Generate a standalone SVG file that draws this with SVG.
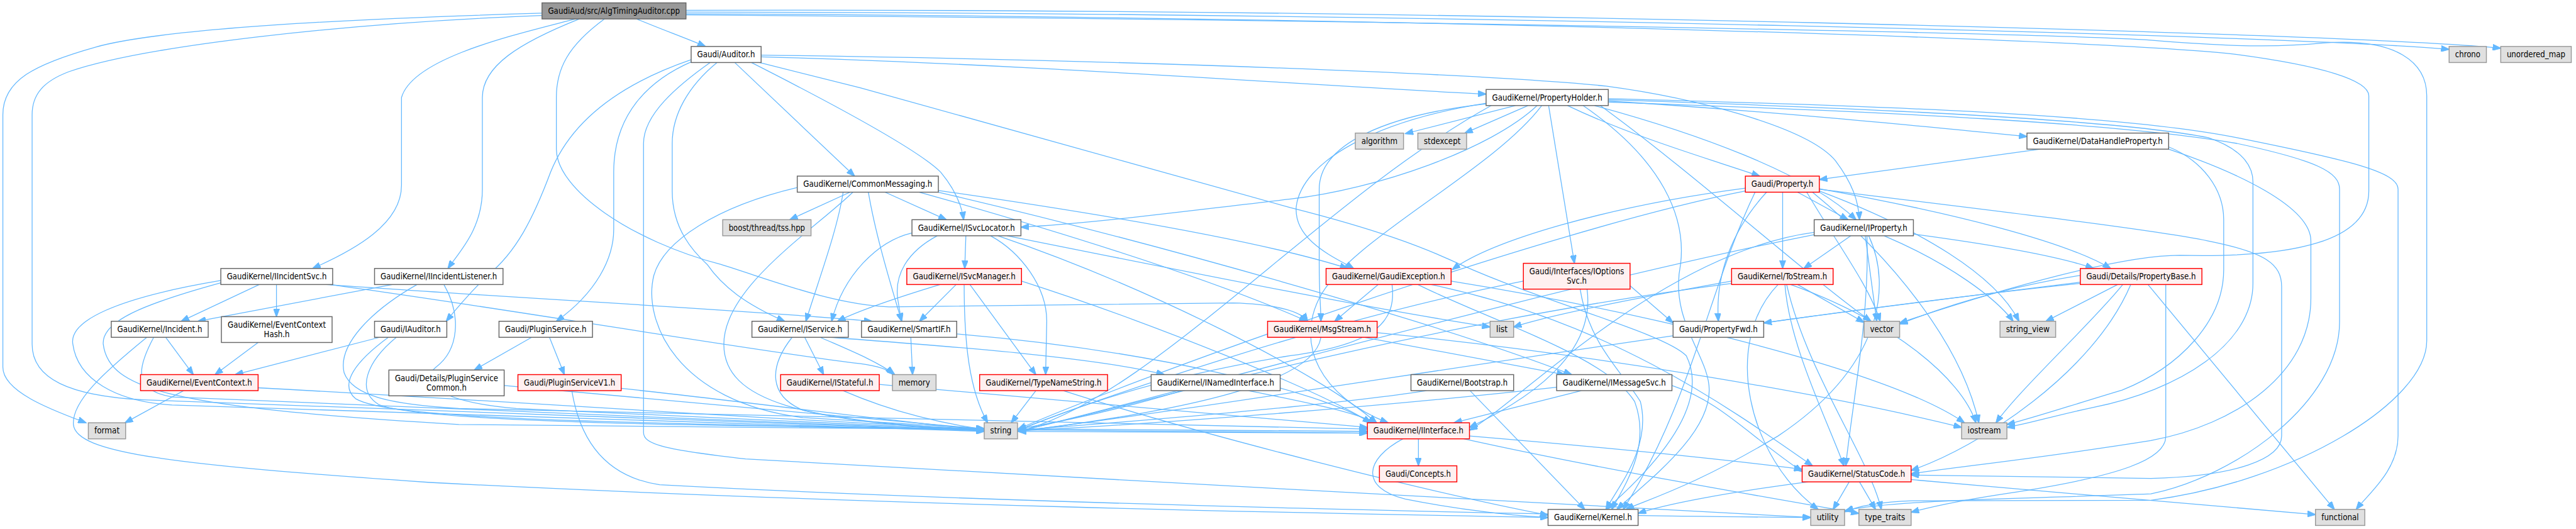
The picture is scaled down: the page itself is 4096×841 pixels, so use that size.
<svg xmlns="http://www.w3.org/2000/svg" width="4096" height="841" viewBox="0 0 4096 841">
<style>
.e path{fill:none;stroke:#63b8ff;stroke-width:1.4;marker-end:url(#a)}
rect{stroke-width:1.6}
.n rect{fill:#ffffff;stroke:#666666}
.r rect{fill:#fff0f0;stroke:#ff0000}
.s rect{fill:#e0e0e0;stroke:#999999}
.root rect{fill:#999999;stroke:#666666}
text{font-family:"DejaVu Sans Condensed","DejaVu Sans",sans-serif;font-size:15px;fill:#000000;text-anchor:middle}
</style>
<defs>
<marker id="a" markerWidth="15" markerHeight="11" refX="14" refY="5.5" orient="auto" markerUnits="userSpaceOnUse"><path d="M0,0 L15,5.5 L0,11 z" fill="#63b8ff" stroke="#63b8ff" stroke-width="1"/></marker>
</defs>
<rect x="0" y="0" width="4096" height="841" fill="#ffffff"/>
<g transform="scale(0.912)">
<g id="edges" class="e">
<path d="M1110,33 C1150,50 1195,66 1230,81"/>
<path d="M1003,33 C900,60 720,100 700,170 L700,323 C700,390 620,435 545,468"/>
<path d="M1010,33 C905,75 841,115 841,170 L841,330 C841,400 800,440 781,468"/>
<path d="M945,23 C700,30 300,45 167,82 C60,112 5,140 5,200 L5,640 C5,685 100,718 150,737"/>
<path d="M945,27 C600,40 250,80 120,125 C75,142 56,165 56,200 L56,600 C56,660 120,690 250,697 L1716,751"/>
<path d="M1196,21 C2500,22 4000,62 4270,86"/>
<path d="M1196,18 C2500,14 4100,58 4360,84"/>
<path d="M1196,24 C2500,30 3700,70 3900,95 C4050,115 4130,140 4130,167 L4130,333 C4130,420 4000,450 3800,445 C3700,445 3500,500 3312,563"/>
<path d="M1196,26 C2500,35 3600,60 3750,70 C3850,78 3950,85 4050,75 C4180,65 4231,110 4231,167 L4231,594 C4231,700 4000,840 3750,872 L3335,873 C3280,875 3240,882 3217,892"/>
<path d="M1054,33 C990,80 970,120 970,170 L970,260 C970,330 1100,420 1257,461 C1350,490 1450,530 1550,535 L2150,528 C2230,530 2270,545 2280,560"/>
<path d="M1205,104 C1100,140 1000,200 960,300 C930,380 900,440 850,480 C810,520 790,545 778,560"/>
<path d="M1207,107 C1130,140 1070,200 1070,300 L1070,400 C1070,450 1040,510 970,560"/>
<path d="M1238,109 C1180,150 1122,200 1122,250 L1122,754 C1122,775 1160,784 1300,800 L2250,853 C2700,880 3000,895 3157,902"/>
<path d="M1250,109 C1200,150 1172,200 1172,250 L1172,333 C1172,400 1210,440 1233,461 C1260,500 1300,530 1368,560"/>
<path d="M1281,109 L1490,307"/>
<path d="M1310,109 C1450,180 1600,260 1640,300 C1665,330 1677,360 1680,383"/>
<path d="M1324,109 L1500,153 L2250,362 C2400,400 2480,430 2546,461 C2700,530 2900,580 2940,620 C2980,700 2900,800 2800,888"/>
<path d="M1327,99 C1800,112 2300,150 2591,164"/>
<path d="M1327,96 C2000,105 2600,130 2800,150 C2950,170 3150,220 3200,280 C3230,320 3240,350 3242,383"/>
<path d="M2642,184 L2450,233"/>
<path d="M2664,184 L2554,232"/>
<path d="M2700,184 L2745,459"/>
<path d="M2804,176 C3100,195 3350,220 3534,238"/>
<path d="M2733,184 C2850,240 2990,280 3068,307"/>
<path d="M2680,184 C2600,260 2400,330 2250,347 C2050,370 1900,390 1780,396"/>
<path d="M2591,180 C2400,210 2270,280 2260,360 C2255,420 2330,450 2360,468"/>
<path d="M2591,181 C2420,200 2300,250 2300,330 L2300,460 C2300,510 2303,540 2303,560"/>
<path d="M2760,184 C2900,280 2940,380 2930,461 C2910,560 2980,620 2980,680 C2980,760 2870,840 2819,888"/>
<path d="M2804,172 C3300,185 3700,200 3900,240 C4100,280 4181,300 4181,330 L4181,760 C4181,820 4130,860 4108,888"/>
<path d="M2804,178 C3300,195 3700,215 3900,250 C4040,280 4079,300 4079,330 L4079,561 C4079,700 3900,830 3750,861 C3500,870 3300,872 3217,890"/>
<path d="M2790,184 C2950,300 3150,480 3262,560"/>
<path d="M2600,184 C2300,350 2000,700 1775,752"/>
<path d="M2804,174 C3300,190 3700,210 3850,240 C3910,260 3928,290 3928,317 L3928,494 C3928,600 3800,680 3650,710 C3580,725 3530,740 3499,745"/>
<path d="M2780,184 C2950,230 3150,300 3236,383"/>
<path d="M2688,184 C2600,300 2350,420 2300,520 C2260,600 2300,690 2420,737"/>
<path d="M3557,260 L3172,313"/>
<path d="M3781,256 C3840,280 3877,330 3877,383 L3877,470 C3877,560 3800,640 3700,680 C3600,710 3540,730 3499,740"/>
<path d="M3781,260 C3900,300 4029,360 4029,420 L4029,520 C4029,650 3900,740 3750,768 C3550,800 3400,815 3332,826"/>
<path d="M1482,335 L1377,383"/>
<path d="M1543,335 L1650,383"/>
<path d="M1514,335 C1525,400 1545,470 1572,560"/>
<path d="M1603,335 C1800,390 2100,480 2279,560"/>
<path d="M1636,332 C1900,370 2200,420 2350,468"/>
<path d="M1636,335 C2000,420 2500,560 2740,653"/>
<path d="M1470,335 C1460,400 1430,480 1405,560"/>
<path d="M1487,335 C1420,400 1262,500 1262,600 C1262,700 1400,735 1716,749"/>
<path d="M1390,327 C1250,360 1157,420 1140,480 C1120,560 1180,700 1400,728 L1716,747"/>
<path d="M3108,335 L3108,468"/>
<path d="M3134,335 L3222,383"/>
<path d="M3172,329 C3400,370 3600,420 3680,468"/>
<path d="M3080,335 C3020,400 2990,480 2996,560"/>
<path d="M3172,333 C3350,400 3480,480 3520,560"/>
<path d="M3150,335 C3200,420 3260,500 3278,560"/>
<path d="M3160,335 C3300,450 3420,600 3450,737"/>
<path d="M3172,330 C3500,370 3750,400 3850,420 C3950,440 3978,460 3978,500 L3978,760 C3978,800 3900,830 3750,834 L3332,828"/>
<path d="M3060,335 C2980,500 2950,700 2830,888"/>
<path d="M3043,328 C2800,360 2600,420 2532,470"/>
<path d="M3043,333 C2700,400 2000,650 1775,748"/>
<path d="M1684,411 L1682,468"/>
<path d="M1634,411 C1580,440 1560,480 1565,520 C1568,540 1570,550 1572,560"/>
<path d="M1727,411 C1780,440 1825,500 1825,560 L1823,653"/>
<path d="M1756,411 C2100,480 2400,540 2598,570"/>
<path d="M1590,406 C1530,420 1470,480 1450,560"/>
<path d="M1740,411 C2000,500 2300,650 2400,737"/>
<path d="M3163,405 C2900,440 2650,700 2562,750"/>
<path d="M3255,411 C3260,550 3230,700 3218,812"/>
<path d="M3163,409 C2700,500 2000,700 1775,752"/>
<path d="M3285,411 C3400,460 3480,520 3510,560"/>
<path d="M3252,411 L3272,560"/>
<path d="M3336,408 C3500,430 3600,450 3650,468"/>
<path d="M3258,411 C3300,500 3280,640 3100,760 C2950,850 2860,875 2835,888"/>
<path d="M3227,411 L3145,468"/>
<path d="M452,496 L316,560"/>
<path d="M482,496 L482,552"/>
<path d="M385,489 C200,520 120,560 127,600 C135,660 200,700 300,706 L1716,752"/>
<path d="M385,493 C250,530 177,560 180,600 C190,680 300,710 800,740 L2384,755"/>
<path d="M569,496 C900,520 1300,540 1520,560"/>
<path d="M575,496 C900,540 1300,610 1500,634 C1530,638 1550,645 1557,653"/>
<path d="M684,496 L345,560"/>
<path d="M727,496 C650,540 588,600 600,650 C615,690 680,705 800,712 L2384,748"/>
<path d="M774,496 C805,550 800,610 760,640 C730,665 760,700 900,712 L1716,750"/>
<path d="M1639,496 C1560,520 1500,540 1460,560"/>
<path d="M1667,496 L1603,560"/>
<path d="M1681,496 C1681,600 1690,680 1722,737"/>
<path d="M1691,496 L1806,653"/>
<path d="M1781,490 C2000,560 2300,680 2390,737"/>
<path d="M2403,496 L2327,560"/>
<path d="M2427,496 C2435,560 2400,600 2250,620 C2000,660 1850,720 1775,750"/>
<path d="M2472,496 C2600,560 2800,620 2850,700 C2880,780 2830,850 2810,888"/>
<path d="M2495,496 C2800,560 3000,700 3160,812"/>
<path d="M2530,490 C2900,550 3300,650 3425,737"/>
<path d="M2842,498 L2917,563"/>
<path d="M2755,504 C2770,600 2830,650 2860,700 C2880,780 2820,850 2800,888"/>
<path d="M2767,504 C2780,600 2700,680 2562,745"/>
<path d="M2656,490 C2300,560 1900,700 1775,750"/>
<path d="M3134,496 L3250,562"/>
<path d="M3122,496 C3300,560 3420,660 3445,737"/>
<path d="M3112,496 C3120,600 3180,720 3215,812"/>
<path d="M3019,490 C2850,520 2700,550 2639,570"/>
<path d="M3019,494 C2500,560 2000,700 1775,752"/>
<path d="M3100,496 C3000,600 3050,800 3170,888"/>
<path d="M3115,496 C3150,650 3260,800 3280,888"/>
<path d="M3692,496 L3567,560"/>
<path d="M3701,496 C3650,560 3520,680 3480,737"/>
<path d="M3715,496 C3650,650 3450,780 3332,820"/>
<path d="M3745,496 L4070,888"/>
<path d="M3627,492 C3400,520 3200,545 3075,563"/>
<path d="M3776,496 L3776,761 C3776,800 3700,830 3500,860 C3400,875 3350,888 3332,893"/>
<path d="M3627,494 C3000,560 2200,700 1775,752"/>
<path d="M3627,480 C3500,500 3400,530 3312,565"/>
<path d="M289,588 L337,653"/>
<path d="M256,588 C180,650 125,700 128,740 C132,790 300,810 750,841 C1500,880 2300,895 2699,902"/>
<path d="M268,588 C240,640 230,680 300,692 L1716,751"/>
<path d="M450,597 L375,653"/>
<path d="M662,588 L410,653"/>
<path d="M677,588 C620,630 590,670 620,695 C680,730 1000,735 1716,750"/>
<path d="M691,588 C640,630 620,680 660,705 C750,745 1500,745 2384,752"/>
<path d="M927,588 L827,645"/>
<path d="M958,588 L984,653"/>
<path d="M879,672 C1200,700 1500,730 1716,748"/>
<path d="M1083,677 C1300,700 1600,740 1716,749"/>
<path d="M997,681 C1010,760 1050,830 1150,845 C1800,880 2800,900 3157,902"/>
<path d="M1403,588 L1436,653"/>
<path d="M1381,588 C1340,640 1340,690 1400,715 C1500,740 1650,748 1716,750"/>
<path d="M1448,588 C1600,600 1900,620 2030,653"/>
<path d="M1430,588 C1480,610 1530,630 1560,653"/>
<path d="M1588,588 L1591,653"/>
<path d="M1668,582 C2000,610 2300,680 2390,737"/>
<path d="M2379,588 L2728,653"/>
<path d="M2303,588 C2295,640 2200,700 1775,752"/>
<path d="M2401,580 C2800,620 3200,690 3420,745"/>
<path d="M1533,670 C1900,700 2200,730 2384,745"/>
<path d="M1470,681 C1560,720 1650,740 1716,748"/>
<path d="M1806,681 L1763,737"/>
<path d="M1854,681 C2100,760 2500,860 2699,898"/>
<path d="M2177,681 C2270,700 2350,715 2400,737"/>
<path d="M2060,681 C1950,715 1850,735 1775,748"/>
<path d="M2563,681 L2763,888"/>
<path d="M2487,681 C2300,710 1900,740 1775,750"/>
<path d="M2757,681 L2535,737"/>
<path d="M2714,675 C2400,710 2000,740 1775,751"/>
<path d="M2915,672 C3000,700 3050,760 3142,822"/>
<path d="M2473,765 L2473,812"/>
<path d="M2446,765 C2380,800 2370,850 2450,870 C2550,890 2650,900 2699,902"/>
<path d="M2562,760 C2800,780 3000,800 3142,818"/>
<path d="M2552,765 C2800,820 3100,870 3241,895"/>
<path d="M2384,755 C2100,755 1900,752 1775,752"/>
<path d="M3224,840 L3196,888"/>
<path d="M3242,840 L3270,888"/>
<path d="M3152,840 C3000,860 2900,880 2856,895"/>
<path d="M3332,836 C3600,860 3900,885 4037,897"/>
<path d="M320,681 L218,737"/>
<path d="M450,676 C900,700 1400,735 1716,748"/>
</g>
<g id="cpp" class="root"><rect x="945" y="5" width="251" height="28"/><text x="1070.5" y="24" textLength="230" lengthAdjust="spacingAndGlyphs">GaudiAud/src/AlgTimingAuditor.cpp</text></g>
<g id="auditor" class="n"><rect x="1205" y="81" width="122" height="28"/><text x="1266" y="100" textLength="101" lengthAdjust="spacingAndGlyphs">Gaudi/Auditor.h</text></g>
<g id="chrono" class="s"><rect x="4270" y="81" width="65" height="28"/><text x="4302.5" y="100" textLength="44" lengthAdjust="spacingAndGlyphs">chrono</text></g>
<g id="unordered_map" class="s"><rect x="4360" y="81" width="123" height="28"/><text x="4421.5" y="100" textLength="102" lengthAdjust="spacingAndGlyphs">unordered_map</text></g>
<g id="propertyholder" class="n"><rect x="2591" y="156" width="213" height="28"/><text x="2697.5" y="175" textLength="192" lengthAdjust="spacingAndGlyphs">GaudiKernel/PropertyHolder.h</text></g>
<g id="algorithm" class="s"><rect x="2363" y="232" width="84" height="28"/><text x="2405" y="251" textLength="63" lengthAdjust="spacingAndGlyphs">algorithm</text></g>
<g id="stdexcept" class="s"><rect x="2472" y="232" width="85" height="28"/><text x="2514.5" y="251" textLength="64" lengthAdjust="spacingAndGlyphs">stdexcept</text></g>
<g id="datahandleproperty" class="n"><rect x="3534" y="232" width="247" height="28"/><text x="3657.5" y="251" textLength="226" lengthAdjust="spacingAndGlyphs">GaudiKernel/DataHandleProperty.h</text></g>
<g id="commonmessaging" class="n"><rect x="1390" y="307" width="246" height="28"/><text x="1513" y="326" textLength="225" lengthAdjust="spacingAndGlyphs">GaudiKernel/CommonMessaging.h</text></g>
<g id="property" class="r"><rect x="3043" y="307" width="129" height="28"/><text x="3107.5" y="326" textLength="108" lengthAdjust="spacingAndGlyphs">Gaudi/Property.h</text></g>
<g id="tss" class="s"><rect x="1260" y="383" width="154" height="28"/><text x="1337" y="402" textLength="133" lengthAdjust="spacingAndGlyphs">boost/thread/tss.hpp</text></g>
<g id="isvclocator" class="n"><rect x="1590" y="383" width="190" height="28"/><text x="1685" y="402" textLength="169" lengthAdjust="spacingAndGlyphs">GaudiKernel/ISvcLocator.h</text></g>
<g id="iproperty" class="n"><rect x="3163" y="383" width="173" height="28"/><text x="3249.5" y="402" textLength="152" lengthAdjust="spacingAndGlyphs">GaudiKernel/IProperty.h</text></g>
<g id="iincidentsvc" class="n"><rect x="385" y="468" width="195" height="28"/><text x="482.5" y="487" textLength="174" lengthAdjust="spacingAndGlyphs">GaudiKernel/IIncidentSvc.h</text></g>
<g id="iincidentlistener" class="n"><rect x="653" y="468" width="224" height="28"/><text x="765" y="487" textLength="203" lengthAdjust="spacingAndGlyphs">GaudiKernel/IIncidentListener.h</text></g>
<g id="isvcmanager" class="r"><rect x="1581" y="468" width="200" height="28"/><text x="1681" y="487" textLength="179" lengthAdjust="spacingAndGlyphs">GaudiKernel/ISvcManager.h</text></g>
<g id="gaudiexception" class="r"><rect x="2312" y="468" width="218" height="28"/><text x="2421" y="487" textLength="197" lengthAdjust="spacingAndGlyphs">GaudiKernel/GaudiException.h</text></g>
<g id="ioptionssvc" class="r"><rect x="2656" y="459" width="186" height="45"/><text x="2749" y="478" textLength="165" lengthAdjust="spacingAndGlyphs">Gaudi/Interfaces/IOptions</text><text x="2749" y="495" textLength="35" lengthAdjust="spacingAndGlyphs">Svc.h</text></g>
<g id="tostream" class="r"><rect x="3019" y="468" width="177" height="28"/><text x="3107.5" y="487" textLength="156" lengthAdjust="spacingAndGlyphs">GaudiKernel/ToStream.h</text></g>
<g id="propertybase" class="r"><rect x="3627" y="468" width="212" height="28"/><text x="3733" y="487" textLength="191" lengthAdjust="spacingAndGlyphs">Gaudi/Details/PropertyBase.h</text></g>
<g id="incident" class="n"><rect x="194" y="560" width="169" height="28"/><text x="278.5" y="579" textLength="148" lengthAdjust="spacingAndGlyphs">GaudiKernel/Incident.h</text></g>
<g id="eventcontexthash" class="n"><rect x="386" y="552" width="193" height="45"/><text x="482.5" y="571" textLength="171" lengthAdjust="spacingAndGlyphs">GaudiKernel/EventContext</text><text x="482.5" y="588" textLength="45" lengthAdjust="spacingAndGlyphs">Hash.h</text></g>
<g id="iauditor" class="n"><rect x="653" y="560" width="126" height="28"/><text x="716" y="579" textLength="105" lengthAdjust="spacingAndGlyphs">Gaudi/IAuditor.h</text></g>
<g id="pluginservice" class="n"><rect x="870" y="560" width="163" height="28"/><text x="951.5" y="579" textLength="142" lengthAdjust="spacingAndGlyphs">Gaudi/PluginService.h</text></g>
<g id="iservice" class="n"><rect x="1311" y="560" width="168" height="28"/><text x="1395" y="579" textLength="147" lengthAdjust="spacingAndGlyphs">GaudiKernel/IService.h</text></g>
<g id="smartif" class="n"><rect x="1502" y="560" width="166" height="28"/><text x="1585" y="579" textLength="145" lengthAdjust="spacingAndGlyphs">GaudiKernel/SmartIF.h</text></g>
<g id="msgstream" class="r"><rect x="2210" y="560" width="191" height="28"/><text x="2305.5" y="579" textLength="170" lengthAdjust="spacingAndGlyphs">GaudiKernel/MsgStream.h</text></g>
<g id="list" class="s"><rect x="2598" y="560" width="41" height="28"/><text x="2618.5" y="579" textLength="20" lengthAdjust="spacingAndGlyphs">list</text></g>
<g id="propertyfwd" class="n"><rect x="2917" y="560" width="158" height="28"/><text x="2996" y="579" textLength="137" lengthAdjust="spacingAndGlyphs">Gaudi/PropertyFwd.h</text></g>
<g id="vector" class="s"><rect x="3250" y="560" width="62" height="28"/><text x="3281" y="579" textLength="41" lengthAdjust="spacingAndGlyphs">vector</text></g>
<g id="string_view" class="s"><rect x="3487" y="560" width="97" height="28"/><text x="3535.5" y="579" textLength="76" lengthAdjust="spacingAndGlyphs">string_view</text></g>
<g id="eventcontext" class="r"><rect x="245" y="653" width="205" height="28"/><text x="347.5" y="672" textLength="184" lengthAdjust="spacingAndGlyphs">GaudiKernel/EventContext.h</text></g>
<g id="pluginservicecommon" class="n"><rect x="678" y="645" width="201" height="45"/><text x="778.5" y="664" textLength="180" lengthAdjust="spacingAndGlyphs">Gaudi/Details/PluginService</text><text x="778.5" y="681" textLength="70" lengthAdjust="spacingAndGlyphs">Common.h</text></g>
<g id="pluginservicev1" class="r"><rect x="903" y="653" width="180" height="28"/><text x="993" y="672" textLength="159" lengthAdjust="spacingAndGlyphs">Gaudi/PluginServiceV1.h</text></g>
<g id="istateful" class="r"><rect x="1361" y="653" width="172" height="28"/><text x="1447" y="672" textLength="151" lengthAdjust="spacingAndGlyphs">GaudiKernel/IStateful.h</text></g>
<g id="memory" class="s"><rect x="1556" y="653" width="76" height="28"/><text x="1594" y="672" textLength="55" lengthAdjust="spacingAndGlyphs">memory</text></g>
<g id="typenamestring" class="r"><rect x="1708" y="653" width="223" height="28"/><text x="1819.5" y="672" textLength="202" lengthAdjust="spacingAndGlyphs">GaudiKernel/TypeNameString.h</text></g>
<g id="inamedinterface" class="n"><rect x="2007" y="653" width="225" height="28"/><text x="2119.5" y="672" textLength="204" lengthAdjust="spacingAndGlyphs">GaudiKernel/INamedInterface.h</text></g>
<g id="bootstrap" class="n"><rect x="2460" y="653" width="179" height="28"/><text x="2549.5" y="672" textLength="158" lengthAdjust="spacingAndGlyphs">GaudiKernel/Bootstrap.h</text></g>
<g id="imessagesvc" class="n"><rect x="2714" y="653" width="201" height="28"/><text x="2814.5" y="672" textLength="180" lengthAdjust="spacingAndGlyphs">GaudiKernel/IMessageSvc.h</text></g>
<g id="format" class="s"><rect x="154" y="737" width="65" height="28"/><text x="186.5" y="756" textLength="44" lengthAdjust="spacingAndGlyphs">format</text></g>
<g id="string" class="s"><rect x="1716" y="737" width="58" height="28"/><text x="1745" y="756" textLength="37" lengthAdjust="spacingAndGlyphs">string</text></g>
<g id="iinterface" class="r"><rect x="2384" y="737" width="178" height="28"/><text x="2473" y="756" textLength="157" lengthAdjust="spacingAndGlyphs">GaudiKernel/IInterface.h</text></g>
<g id="iostream" class="s"><rect x="3420" y="737" width="79" height="28"/><text x="3459.5" y="756" textLength="58" lengthAdjust="spacingAndGlyphs">iostream</text></g>
<g id="concepts" class="r"><rect x="2405" y="812" width="135" height="28"/><text x="2472.5" y="831" textLength="114" lengthAdjust="spacingAndGlyphs">Gaudi/Concepts.h</text></g>
<g id="statuscode" class="r"><rect x="3142" y="812" width="190" height="28"/><text x="3237" y="831" textLength="169" lengthAdjust="spacingAndGlyphs">GaudiKernel/StatusCode.h</text></g>
<g id="kernel" class="n"><rect x="2699" y="888" width="157" height="28"/><text x="2777.5" y="907" textLength="136" lengthAdjust="spacingAndGlyphs">GaudiKernel/Kernel.h</text></g>
<g id="utility" class="s"><rect x="3157" y="888" width="59" height="28"/><text x="3186.5" y="907" textLength="38" lengthAdjust="spacingAndGlyphs">utility</text></g>
<g id="type_traits" class="s"><rect x="3241" y="888" width="91" height="28"/><text x="3286.5" y="907" textLength="70" lengthAdjust="spacingAndGlyphs">type_traits</text></g>
<g id="functional" class="s"><rect x="4037" y="888" width="86" height="28"/><text x="4080" y="907" textLength="65" lengthAdjust="spacingAndGlyphs">functional</text></g>
</g>
</svg>
